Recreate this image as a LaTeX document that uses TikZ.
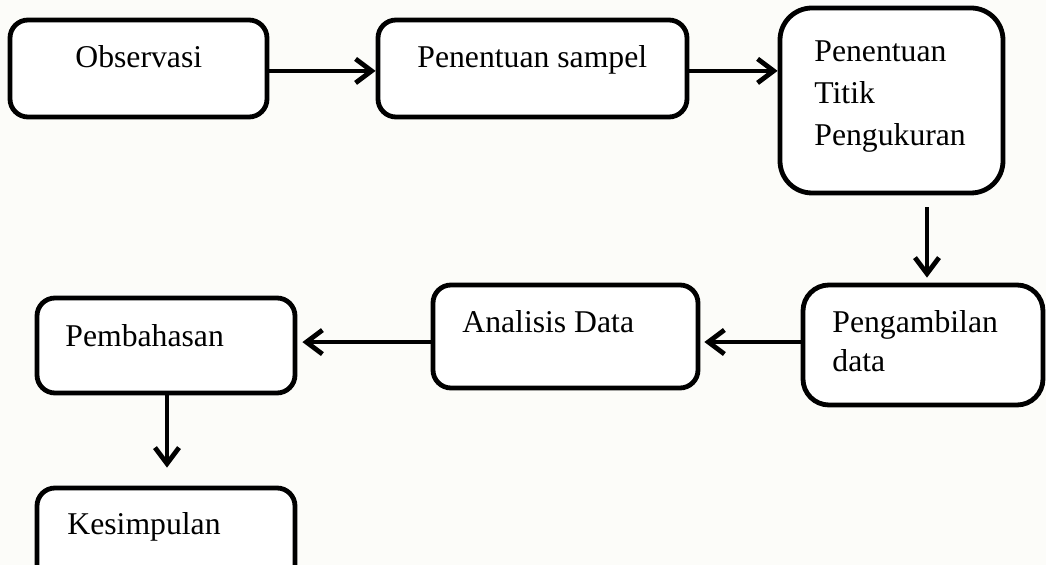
\documentclass[tikz,border=0pt]{standalone}
\usepackage{fontspec}
\setmainfont{Liberation Serif}
\usetikzlibrary{arrows.meta}
\definecolor{bgcol}{RGB}{252,252,249}
\tikzset{
  box/.style={draw=black, line width=2.4pt, rounded corners=9pt, fill=white, inner sep=0pt},
  bigbox/.style={box, rounded corners=16pt},
  lbl/.style={anchor=base west, inner sep=0pt, font=\fontsize{15.85}{20.5}\selectfont, align=left},
  conn/.style={line width=2.2pt, -{Straight Barb[length=8pt,width=12pt,line width=2.4pt]}},
}
\begin{document}
\begin{tikzpicture}[x=0.5pt,y=-0.5pt]
\path[fill=bgcol] (0,0) rectangle (1046,565);
\useasboundingbox (0,0) rectangle (1046,565);
% boxes
\node[box, minimum width=128.5pt, minimum height=48.5pt] (b1) at (138.5,68.5) {};
\node[box, minimum width=154.5pt, minimum height=48.5pt] (b2) at (532.5,68.5) {};
\node[bigbox, minimum width=111.5pt, minimum height=92.5pt] (b3) at (891.5,100.5) {};
\node[bigbox, rounded corners=13pt, minimum width=120pt, minimum height=60pt] (b4) at (923,345) {};
\node[box, minimum width=132.5pt, minimum height=51.5pt] (b5) at (565.5,336.5) {};
\node[box, minimum width=129pt, minimum height=47.5pt] (b6) at (166,345.5) {};
\node[box, minimum width=129pt, minimum height=50pt] (b7) at (166,538) {};
% labels
\node[lbl] (t1) at (75,68) {Observasi};
\node[lbl] (t2) at (417,68) {Penentuan sampel};
\node[lbl, font=\fontsize{15.85}{21}\selectfont] (t3) at (814,146) {Penentuan\\Titik\\Pengukuran};
\node[lbl, font=\fontsize{15.85}{19.5}\selectfont] (t4) at (832,372) {Pengambilan\\data};
\node[lbl] (t5) at (462,333) {Analisis Data};
\node[lbl] (t6) at (65,347) {Pembahasan};
\node[lbl] (t7) at (67,535) {Kesimpulan};
% connectors
\draw[conn] ([yshift=-1.2pt]b1.east) -- ([yshift=-1.2pt]b2.west);
\draw[conn] ([yshift=-1.2pt]b2.east) -- ([yshift=-1.2pt]b2.east -| b3.west);
\draw[conn] ([xshift=2pt,yshift=-6pt]b3.south -| b4.north) -- ([xshift=2pt,yshift=2.5pt]b4.north);
\draw[conn] ([yshift=1.5pt]b4.west) -- ([yshift=1.5pt,xshift=2pt]b4.west -| b5.east);
\draw[conn] ([yshift=-2.8pt]b5.west) -- ([yshift=-2.8pt,xshift=2.5pt]b5.west -| b6.east);
\draw[conn] ([xshift=0.5pt]b6.south) -- ([xshift=0.5pt,yshift=9pt]b7.north);
\end{tikzpicture}
\end{document}
